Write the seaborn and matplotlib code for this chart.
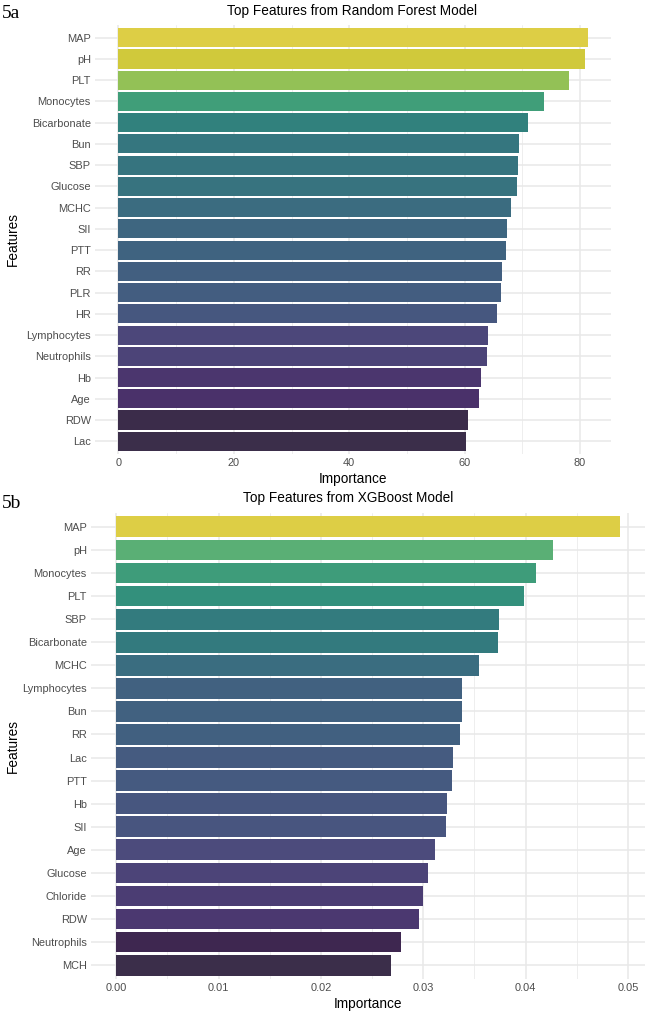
import numpy as np
import pandas as pd
import matplotlib
matplotlib.use("Agg")
import matplotlib.pyplot as plt
import seaborn as sns
from matplotlib.colors import ListedColormap
from matplotlib.ticker import MultipleLocator, FormatStrFormatter

# 데이터
rf_features = ['MAP', 'pH', 'PLT', 'Monocytes', 'Bicarbonate', 'Bun', 'SBP', 'Glucose',
               'MCHC', 'SII', 'PTT', 'RR', 'PLR', 'HR', 'Lymphocytes', 'Neutrophils',
               'Hb', 'Age', 'RDW', 'Lac']
rf_importance = [81.3, 80.8, 78.0, 73.8, 70.9, 69.5, 69.3, 69.1, 68.1, 67.4,
                 67.1, 66.5, 66.3, 65.6, 64.0, 63.8, 62.8, 62.5, 60.5, 60.3]

xgb_features = ['MAP', 'pH', 'Monocytes', 'PLT', 'SBP', 'Bicarbonate', 'MCHC',
                'Lymphocytes', 'Bun', 'RR', 'Lac', 'PTT', 'Hb', 'SII', 'Age',
                'Glucose', 'Chloride', 'RDW', 'Neutrophils', 'MCH']
xgb_importance = [0.0492, 0.0427, 0.0410, 0.0398, 0.0374, 0.0373, 0.0354, 0.0338,
                  0.0338, 0.0336, 0.0329, 0.0328, 0.0323, 0.0322, 0.0311, 0.0305,
                  0.0300, 0.0296, 0.0278, 0.0268]

rf_ticks = [0, 20, 40, 60, 80]
xgb_ticks = [0.00, 0.01, 0.02, 0.03, 0.04, 0.05]

sns.set_style("white")
plt.rcParams['font.family'] = ['Liberation Sans', 'DejaVu Sans']

W, H = 652, 1014
fig = plt.figure(figsize=(W / 100, H / 100), dpi=100)

# viridis, 어두운 끝은 원본처럼 약간 회색빛으로
base = sns.color_palette("viridis", 256)
dark_end = np.array([0x3a, 0x2a, 0x4e]) / 255
cols = []
for i, c in enumerate(base):
    t = i / 255
    c = np.array(sns.desaturate(c, 0.94))
    if t < 0.1:
        w = 1 - t / 0.1
        c = (1 - w) * c + w * dark_end
    cols.append(c)
cmap = ListedColormap(cols)


def px_axes(left, top, right, bottom):
    return fig.add_axes([left / W, 1 - bottom / H, (right - left) / W, (bottom - top) / H])


def draw_panel(ax, features, values, ticks, minor, fmt, title, title_x, title_y, ylab_x):
    df = pd.DataFrame({'Features': features, 'Importance': values})
    vmin, vmax = min(values), max(values)
    colors = [cmap((v - vmin) / (vmax - vmin)) for v in values]
    sns.barplot(data=df, x='Importance', y='Features', hue='Features', palette=colors,
                orient='h', width=0.9, linewidth=0, legend=False, ax=ax, zorder=3)
    n = len(features)
    ax.set_ylim(n - 1 + 0.6, -0.6)
    ax.set_xlim(-0.05 * vmax, vmax * 1.05)
    ax.set_xticks(ticks)
    ax.xaxis.set_minor_locator(MultipleLocator(minor))
    ax.xaxis.set_major_formatter(FormatStrFormatter(fmt))
    ax.grid(which='major', axis='both', color='#e8e8e8', linewidth=1.1, zorder=0)
    ax.grid(which='minor', axis='x', color='#ebebeb', linewidth=0.6, zorder=0)
    ax.set_axisbelow(True)
    for s in ax.spines.values():
        s.set_visible(False)
    ax.tick_params(axis='both', which='both', length=0, labelsize=7.9,
                   labelcolor='#4d4d4d', pad=3)
    ax.set_xlabel('Importance', fontsize=9.8, color='black', labelpad=3)
    ax.set_ylabel('Features', fontsize=9.8, color='black')
    ax.yaxis.set_label_coords(ylab_x, 0.5)
    fig.text(title_x / W, 1 - title_y / H, title, ha='center', va='center',
             fontsize=9.8, color='black')


ax1 = px_axes(95, 25, 611, 454)
draw_panel(ax1, rf_features, rf_importance, rf_ticks, 10, '%g',
           'Top Features from Random Forest Model', 352, 11, (20 - 95) / 516)

ax2 = px_axes(91, 513, 645, 979)
draw_panel(ax2, xgb_features, xgb_importance, xgb_ticks, 0.005, '%.2f',
           'Top Features from XGBoost Model', 348, 498, (20 - 91) / 554)

fig.text(2 / W, 1 - 13 / H, '5a', family='Liberation Serif', fontsize=14,
         ha='left', va='center', color='black')
fig.text(2 / W, 1 - 503 / H, '5b', family='Liberation Serif', fontsize=14,
         ha='left', va='center', color='black')

fig.savefig('out.png', dpi=100, facecolor='white')
